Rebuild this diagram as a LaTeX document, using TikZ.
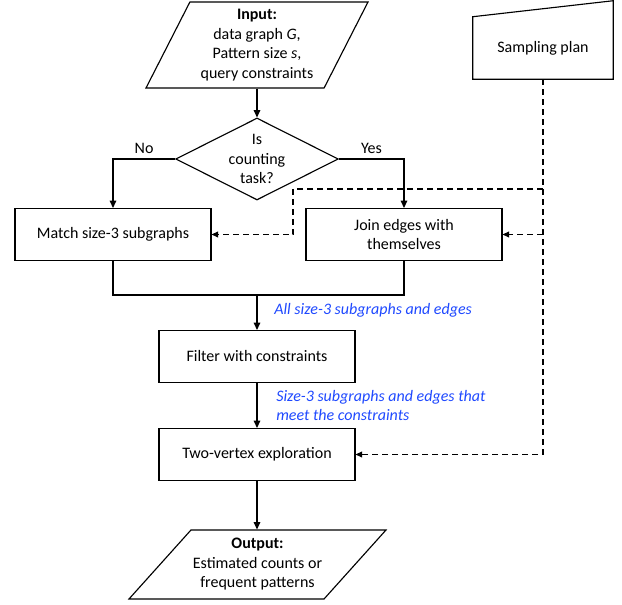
\documentclass[tikz,border=0pt]{standalone}
\usepackage{fontspec}
\setmainfont{Carlito}
\usetikzlibrary{arrows.meta,shapes.geometric}
\definecolor{note}{RGB}{31,73,255}
\tikzset{
  proc/.style={draw, line width=0.85pt, minimum width=147pt, minimum height=39pt, align=center, inner sep=2pt},
  io/.style={draw, line width=0.85pt, trapezium, trapezium stretches body, align=center, inner sep=0pt},
  choice/.style={draw, line width=0.85pt, diamond, minimum width=122pt, minimum height=61.5pt,
    inner sep=-12pt, align=center},
  link/.style={line width=0.85pt},
  flow/.style={line width=0.85pt, -{Triangle[length=5.5pt,width=5pt]}},
  dashedlink/.style={line width=0.85pt, dash pattern=on 4.5pt off 3pt},
  dashedflow/.style={line width=0.85pt, dash pattern=on 4.5pt off 3pt, -{Triangle[length=5pt,width=4.5pt]}},
  lbl/.style={font=\fontsize{12pt}{14.6pt}\selectfont\itshape, text=note, align=left, inner sep=0pt}
}

\begin{document}
\begin{tikzpicture}[x=0.75pt, y=-0.75pt, font=\fontsize{12pt}{14.6pt}\selectfont]
    \useasboundingbox (0,0) rectangle (622,605);

    \node[io, trapezium left angle=58.4, trapezium right angle=121.6,
      minimum width=166.5pt, minimum height=64.5pt] (input) at (257,45)
      {\textbf{Input:}\\data graph \textit{G},\\Pattern size \textit{s},\\query constraints};
    \node[choice] (task) at (257,159) {Is\\counting\\task?};
    \node[proc] (match) at (113,234.5) {Match size-3 subgraphs};
    \node[proc] (join) at (404,234.5) {Join edges with\\themselves};
    \node[proc] (filter) at (257,356.5) {Filter with constraints};
    \node[proc] (twov) at (257,454.5) {Two-vertex exploration};
    \node[io, trapezium left angle=40, trapezium right angle=140,
      minimum width=192.75pt, minimum height=51.75pt] (output) at (257.5,564.5)
      {\textbf{Output:}\\Estimated counts or\\frequent patterns};

    % sampling plan (manual input)
    \node[minimum width=105pt, minimum height=46.5pt, inner sep=0pt] (plan) at (543,48) {Sampling plan};
    \draw[link] (plan.south west) -- (plan.north west) -- ([yshift=12pt]plan.north east)
      -- (plan.south east) -- cycle;

    \coordinate (merge) at (257,295);
    \coordinate (tap) at (293,189);

    \draw[flow] (input.south -| task.north) -- (task.north);
    \draw[flow] (task.west) -| node[pos=0.25, above] {No} (match.north);
    \draw[flow] (task.east) -| node[pos=0.25, above] {Yes} (join.north);
    \draw[link] (match.south) |- (merge) -| (join.south);
    \draw[flow] (merge) -- (filter.north);
    \draw[flow] (filter.south) -- (twov.north);
    \draw[flow] (twov.south) -- (twov.south |- output.north);

    \draw[dashedflow] (plan.south) |- (twov.east);
    \draw[dashedflow] (plan.south |- join.east) -- (join.east);
    \draw[dashedflow] (plan.south |- tap) -- (tap) |- (match.east);

    \node[lbl, anchor=west] (all) at (274,310) {All size-3 subgraphs and edges};
    \node[lbl, anchor=west] (meet) at (276,405.5) {Size-3 subgraphs and edges that\\meet the constraints};
\end{tikzpicture}
\end{document}
